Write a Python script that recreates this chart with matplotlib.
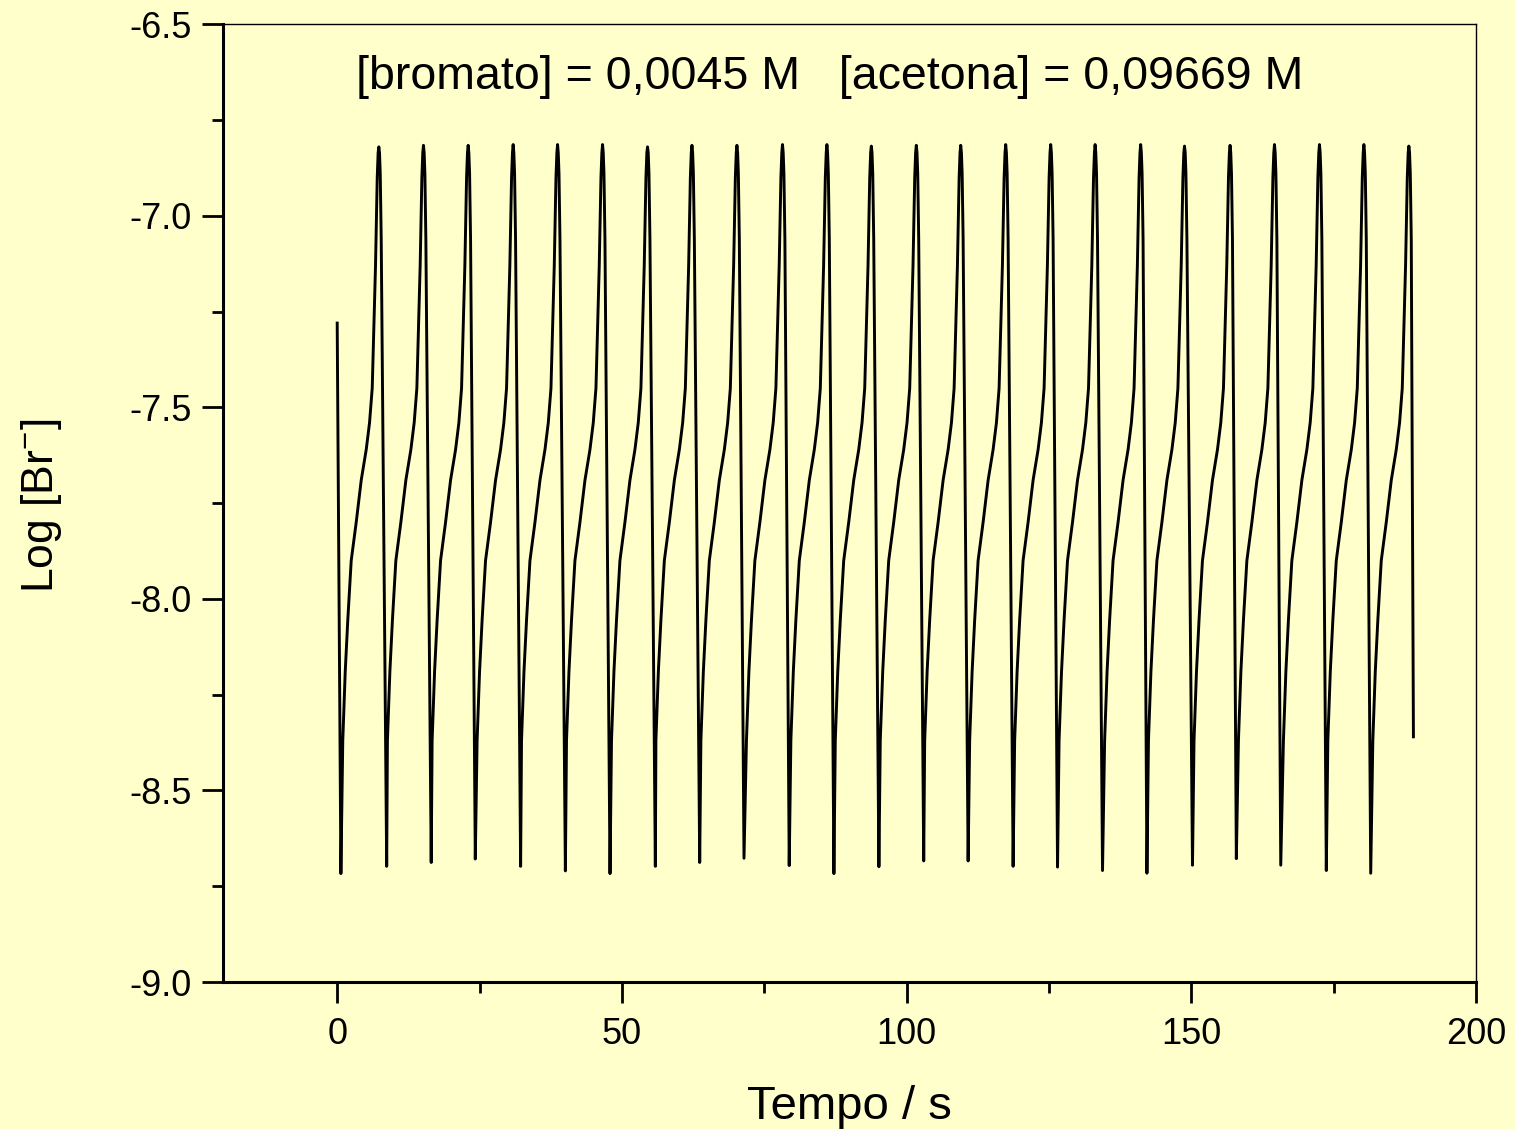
import numpy as np
import matplotlib
matplotlib.use("Agg")
import matplotlib.pyplot as plt
from matplotlib.ticker import MultipleLocator

plt.rcParams['font.family'] = ['Liberation Sans', 'DejaVu Sans']
plt.rcParams['mathtext.default'] = 'regular'

# ---- data ----
start_t, start_v = 0.0, -7.28
end_t, end_v = 189.0, -8.36

peak_t = [7.31, 15.15, 23.0, 30.9, 38.7, 46.6, 54.5, 62.3, 70.2, 78.2, 86.0, 93.8,
          101.7, 109.5, 117.4, 125.3, 133.1, 141.1, 148.8, 156.8, 164.6, 172.5, 180.3, 188.2]
peak_v = [-6.820, -6.816, -6.816, -6.814, -6.814, -6.814, -6.820, -6.816, -6.816, -6.814, -6.814, -6.818,
          -6.816, -6.816, -6.814, -6.814, -6.814, -6.814, -6.818, -6.816, -6.814, -6.814, -6.814, -6.818]

min_t = [0.65, 8.69, 16.51, 24.25, 32.21, 40.07, 47.91, 55.87, 63.66, 71.44, 79.38, 87.23,
         95.13, 103.0, 110.8, 118.7, 126.5, 134.4, 142.2, 150.2, 157.9, 165.7, 173.7, 181.5]
min_v = [-8.717, -8.698, -8.688, -8.679, -8.698, -8.710, -8.717, -8.698, -8.688, -8.677, -8.696, -8.717,
         -8.699, -8.684, -8.684, -8.698, -8.700, -8.709, -8.716, -8.695, -8.678, -8.695, -8.709, -8.716]

# shape of the slow rise before each peak (seconds before the peak, log value)
rise_dt = [-6.33, -5.90, -5.45, -4.85, -3.97, -3.09, -2.21, -1.63, -1.16, -0.93, -0.58, -0.28, -0.12]
rise_v = [-8.37, -8.19, -8.055, -7.90, -7.80, -7.69, -7.61, -7.54, -7.45, -7.32, -7.13, -6.90, -6.835]
# shape just after each peak
fall_dt = [0.12, 0.25, 0.42]
fall_v = [-6.835, -6.89, -7.06]

# ---- assemble the trace ----
T = [start_t]
V = [start_v]
for i in range(len(peak_t)):
    T.append(min_t[i])
    V.append(min_v[i])
    T += [peak_t[i] + d for d in rise_dt]
    V += rise_v
    T.append(peak_t[i])
    V.append(peak_v[i])
    T += [peak_t[i] + d for d in fall_dt]
    V += fall_v
T.append(end_t)
V.append(end_v)

bg = '#FFFFCC'
fig = plt.figure(figsize=(15.15, 11.29), dpi=100, facecolor=bg)
ax = fig.add_axes([0.1474, 0.1302, 0.8269, 0.8483], facecolor=bg)

ax.plot(T, V, color='black', linewidth=2.1, solid_joinstyle='round')

ax.set_xlim(-20, 200)
ax.set_ylim(-9.0, -6.5)
ax.xaxis.set_major_locator(MultipleLocator(50))
ax.xaxis.set_minor_locator(MultipleLocator(25))
ax.yaxis.set_major_locator(MultipleLocator(0.5))
ax.yaxis.set_minor_locator(MultipleLocator(0.25))
ax.set_xticks([0, 50, 100, 150, 200])
ax.yaxis.set_major_formatter(plt.FormatStrFormatter('%.1f'))

for side in ['left', 'bottom']:
    ax.spines[side].set_linewidth(2.2)
for side in ['top', 'right']:
    ax.spines[side].set_linewidth(1.0)

ax.tick_params(which='major', direction='out', length=15, width=2.0, labelsize=26, pad=8)
ax.tick_params(axis='x', which='major', pad=10)
ax.tick_params(which='minor', direction='out', length=8, width=2.0)
ax.tick_params(top=False, right=False, which='both')

ax.set_xlabel('Tempo / s', fontsize=34, labelpad=24)
ax.set_ylabel('Log [Br$^{-}$]', fontsize=32)
ax.yaxis.set_label_coords(-0.127, 0.497)

ax.text(0.484, 0.968, '[bromato] = 0,0045 M   [acetona] = 0,09669 M',
        transform=ax.transAxes, ha='center', va='top', fontsize=33.5)

fig.savefig('out.png', dpi=100, facecolor=bg)
